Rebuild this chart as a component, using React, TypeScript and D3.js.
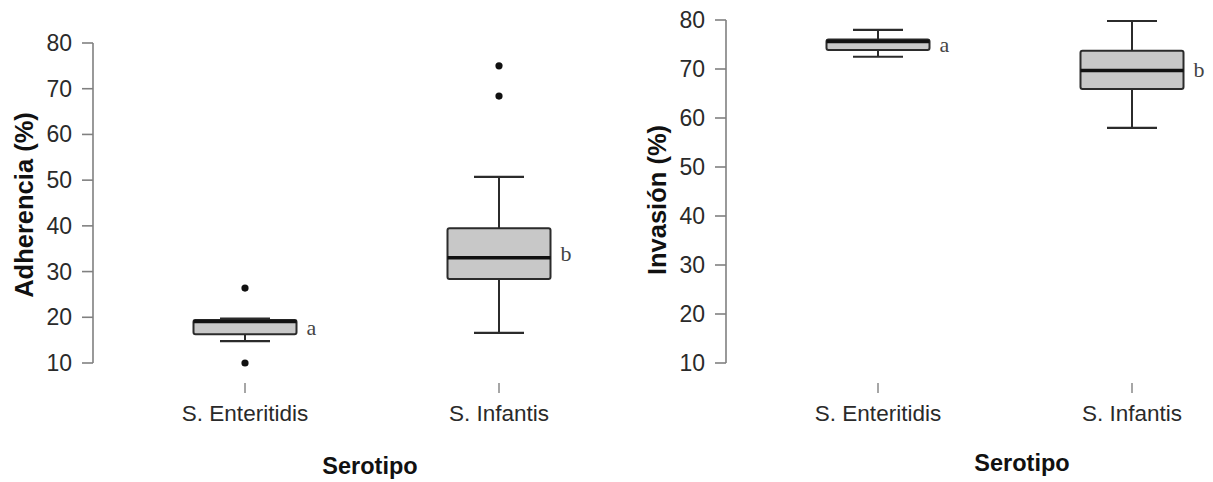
import React from "react";
import * as d3 from "d3";

// ---- data ----
const categories = ["S. Enteritidis", "S. Infantis"];
const yTicks = [10, 20, 30, 40, 50, 60, 70, 80];
const groupLetters = ["a", "b"];

// Adherencia (%)
const adhLow = [14.8, 16.6];
const adhQ1 = [16.3, 28.4];
const adhMedian = [19.1, 33.0];
const adhQ3 = [19.4, 39.5];
const adhHigh = [19.7, 50.7];
const adhOutliers = [[26.4, 10.0], [68.4, 75.0]];

// Invasión (%)
const invLow = [72.5, 58.0];
const invQ1 = [73.9, 65.9];
const invMedian = [75.6, 69.7];
const invQ3 = [76.0, 73.7];
const invHigh = [78.0, 79.8];
const invOutliers: number[][] = [[], []];

const SANS = "'Liberation Sans', Arial, Helvetica, sans-serif";
const SERIF = "'Liberation Serif', 'Times New Roman', serif";

type PanelProps = {
  axisX: number;
  yTop: number;
  yBottom: number;
  xRange: [number, number];
  yTitle: string;
  yTitleX: number;
  yTitleY: number;
  xTitleX: number;
  xTitleY: number;
  low: number[];
  q1: number[];
  med: number[];
  q3: number[];
  high: number[];
  outliers: number[][];
};

function Panel(p: PanelProps) {
  const y = d3.scaleLinear().domain([10, 80]).range([p.yBottom, p.yTop]);
  const x = d3.scalePoint<string>().domain(categories).range(p.xRange).padding(0.5);
  const boxW = 103;
  const capW = 50;
  const axisColor = "#808080";
  return (
    <g>
      {/* y axis */}
      <line x1={p.axisX} x2={p.axisX} y1={y(80)} y2={y(10)} stroke={axisColor} strokeWidth={1.6} />
      {yTicks.map((t) => (
        <g key={t}>
          <line x1={p.axisX - 11} x2={p.axisX} y1={y(t)} y2={y(t)} stroke={axisColor} strokeWidth={1.6} />
          <text
            x={p.axisX - 21}
            y={y(t)}
            textAnchor="end"
            dominantBaseline="central"
            fontFamily={SANS}
            fontSize={23}
            fill="#2a2a2a"
          >
            {t}
          </text>
        </g>
      ))}
      <text
        transform={`translate(${p.yTitleX},${p.yTitleY}) rotate(-90)`}
        textAnchor="middle"
        dominantBaseline="central"
        fontFamily={SANS}
        fontSize={25.5}
        fontWeight="bold"
        fill="#111"
      >
        {p.yTitle}
      </text>
      {/* x ticks and labels */}
      {categories.map((c) => (
        <g key={c}>
          <line x1={x(c)!} x2={x(c)!} y1={383} y2={393} stroke={axisColor} strokeWidth={1.4} />
          <text
            x={x(c)!}
            y={413}
            textAnchor="middle"
            dominantBaseline="central"
            fontFamily={SANS}
            fontSize={22.5}
            fill="#2a2a2a"
          >
            {c}
          </text>
        </g>
      ))}
      <text
        x={p.xTitleX}
        y={p.xTitleY}
        textAnchor="middle"
        dominantBaseline="central"
        fontFamily={SANS}
        fontSize={23.5}
        fontWeight="bold"
        fill="#111"
      >
        Serotipo
      </text>
      {/* boxes */}
      {categories.map((c, i) => {
        const cx = x(c)!;
        const yq1 = y(p.q1[i]);
        const yq3 = y(p.q3[i]);
        return (
          <g key={"b" + c}>
            <line x1={cx} x2={cx} y1={y(p.high[i])} y2={yq3} stroke="#2b2b2b" strokeWidth={2} />
            <line x1={cx} x2={cx} y1={yq1} y2={y(p.low[i])} stroke="#2b2b2b" strokeWidth={2} />
            <line x1={cx - capW / 2} x2={cx + capW / 2} y1={y(p.high[i])} y2={y(p.high[i])} stroke="#2b2b2b" strokeWidth={2.2} />
            <line x1={cx - capW / 2} x2={cx + capW / 2} y1={y(p.low[i])} y2={y(p.low[i])} stroke="#2b2b2b" strokeWidth={2.2} />
            <rect
              x={cx - boxW / 2}
              y={yq3}
              width={boxW}
              height={yq1 - yq3}
              rx={2}
              fill="#c8c8c8"
              stroke="#2b2b2b"
              strokeWidth={2}
            />
            <line x1={cx - boxW / 2} x2={cx + boxW / 2} y1={y(p.med[i])} y2={y(p.med[i])} stroke="#111" strokeWidth={3.5} />
            {p.outliers[i].map((o, k) => (
              <circle key={k} cx={cx} cy={y(o)} r={3.6} fill="#111" />
            ))}
            <text
              x={cx + boxW / 2 + 10}
              y={(yq1 + yq3) / 2}
              dominantBaseline="central"
              fontFamily={SERIF}
              fontSize={22}
              fill="#444"
            >
              {groupLetters[i]}
            </text>
          </g>
        );
      })}
    </g>
  );
}

export default function App() {
  return (
    <svg
      width={1213}
      height={482}
      style={{ position: "absolute", left: 0, top: 0, background: "#fff" }}
    >
      <rect width={1213} height={482} fill="#fff" />
      <Panel
        axisX={93}
        yTop={43}
        yBottom={363}
        xRange={[118, 626]}
        yTitle="Adherencia (%)"
        yTitleX={24}
        yTitleY={205}
        xTitleX={370}
        xTitleY={466}
        low={adhLow}
        q1={adhQ1}
        med={adhMedian}
        q3={adhQ3}
        high={adhHigh}
        outliers={adhOutliers}
      />
      <Panel
        axisX={726}
        yTop={20}
        yBottom={363}
        xRange={[751, 1259]}
        yTitle="Invasión (%)"
        yTitleX={657}
        yTitleY={200}
        xTitleX={1022}
        xTitleY={463}
        low={invLow}
        q1={invQ1}
        med={invMedian}
        q3={invQ3}
        high={invHigh}
        outliers={invOutliers}
      />
    </svg>
  );
}
